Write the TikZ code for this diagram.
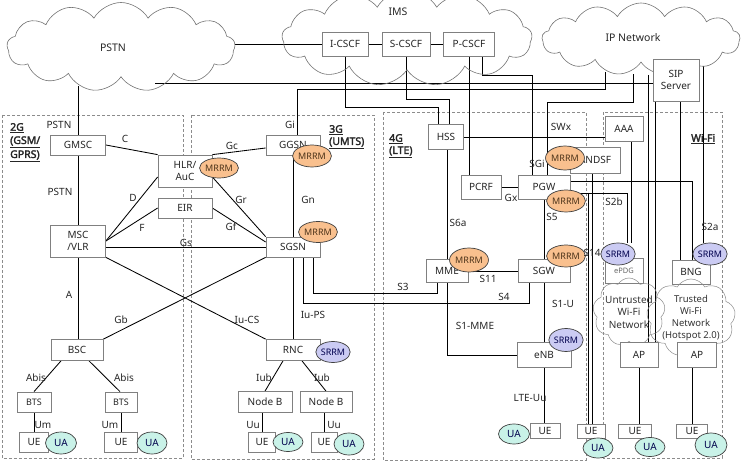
\documentclass[tikz,border=0pt]{standalone}
\usepackage{fontspec}
\setmainfont{Noto Sans}
\newfontfamily\tagfont{Noto Sans}[FakeBold=2.5]
\usetikzlibrary{shapes.geometric,shapes.symbols}
\definecolor{mrrmc}{HTML}{F9C08E}
\definecolor{srrmc}{HTML}{CBCBF3}
\definecolor{uac}{HTML}{C9F2E8}
\definecolor{boxline}{HTML}{808080}
\pgfdeclarelayer{bg}
\pgfsetlayers{bg,main}
\newcommand\myfa{\fontsize{10}{12.5}\selectfont}
\newcommand\myfb{\fontsize{9}{11}\selectfont}
\newcommand\myfc{\tagfont\fontsize{10.5}{13.5}\selectfont}
\newcommand\myfd{\fontsize{10.5}{13}\selectfont}
\newcommand\myfe{\fontsize{9.5}{12}\selectfont}
\begin{document}
\begin{tikzpicture}[x=1pt,y=-1pt,
  box/.style={draw=boxline, fill=white, line width=0.75pt, inner sep=1pt, align=center, font=\myfa, text=black!85},
  conn/.style={draw=black, line width=0.85pt},
  lbl/.style={font=\myfa, inner sep=0pt, text=black!85},
  region/.style={draw=black!45, line width=0.6pt, dash pattern=on 3pt off 2pt},
  rrm/.style={ellipse, draw=black!75, line width=0.7pt, inner sep=0pt, font=\myfb},
  mrrm/.style={rrm, fill=mrrmc, text=black!60!brown},
  srrm/.style={rrm, fill=srrmc, text=black!70!blue},
  ua/.style={rrm, fill=uac, font=\myfa, text=black!70!blue},
  bigcloud/.style={cloud, cloud puffs=13, cloud puff arc=120, cloud ignores aspect, draw=black!55, line width=0.6pt, inner sep=0pt},
  wcloud/.style={cloud, cloud puffs=9, cloud puff arc=120, cloud ignores aspect, draw=black!45, line width=0.5pt, align=center, font=\myfa, inner sep=0pt, text=black!80},
  regtag/.style={font=\myfc, inner sep=0pt, anchor=west, text=black!85}
]
\useasboundingbox (0,0) rectangle (742,462);

% clouds
\node[bigcloud, minimum width=250, minimum height=96] (ims) at (407,38) {};
\node[lbl, font=\myfd] (imsl) at (398,12) {IMS};
\node[bigcloud, minimum width=228, minimum height=89] (pstn) at (121,47) {};
\node[lbl, font=\myfd] (pstnl) at (113,48) {PSTN};
\node[bigcloud, minimum width=198, minimum height=72] (ip) at (641,39) {};
\node[lbl, font=\myfd] (ipl) at (633,38) {IP Network};

% IMS boxes
\node[box, minimum width=46, minimum height=24] (icscf) at (345,44) {I-CSCF};
\node[box, minimum width=48, minimum height=24] (scscf) at (406,44) {S-CSCF};
\node[box, minimum width=51, minimum height=24] (pcscf) at (469,44) {P-CSCF};
\node[box, minimum width=46, minimum height=42] (sip) at (676,80) {SIP\\Server};

% 2G
\node[box, minimum width=55, minimum height=20] (gmsc) at (78,145) {GMSC};
\node[box, minimum width=55, minimum height=32] (msc) at (78,241) {MSC\\/VLR};
\node[box, minimum width=54, minimum height=32] (hlr) at (185,171) {HLR/\\AuC};
\node[box, minimum width=54, minimum height=20] (eir) at (185,208) {EIR};
\node[box, minimum width=52, minimum height=21] (bsc) at (77,350) {BSC};
\node[box, minimum width=34, minimum height=20, font=\myfb] (btsl) at (34,402) {BTS};
\node[box, minimum width=32, minimum height=20, font=\myfb] (btsr) at (121,402) {BTS};
\node[box, minimum width=29, minimum height=20] (uel) at (34,442) {UE};
\node[box, minimum width=33, minimum height=20] (uer) at (121,442) {UE};

% 3G
\node[box, minimum width=54, minimum height=20] (ggsn) at (293,145) {GGSN};
\node[box, minimum width=54, minimum height=20] (sgsn) at (293,247) {SGSN};
\node[box, minimum width=54, minimum height=21] (rnc) at (293,350) {RNC};
\node[box, minimum width=54, minimum height=21] (nbl) at (265,402) {Node B};
\node[box, minimum width=52, minimum height=21] (nbr) at (326,402) {Node B};
\node[box, minimum width=27, minimum height=20] (uenl) at (262,442) {UE};
\node[box, minimum width=26, minimum height=20] (uenr) at (324,442) {UE};

% 4G
\node[box, minimum width=35, minimum height=25] (hss) at (446,137) {HSS};
\node[box, minimum width=40, minimum height=24] (pcrf) at (481,187) {PCRF};
\node[box, minimum width=52, minimum height=24] (pgw) at (544,187) {PGW};
\node[box, minimum width=42, minimum height=23] (mme) at (447,271) {MME};
\node[box, minimum width=52, minimum height=23] (sgw) at (544,271) {SGW};
\node[box, minimum width=54, minimum height=25] (enb) at (544,355) {eNB};
\node[box, minimum width=30, minimum height=15] (uelte) at (545,431) {UE};

% Wi-Fi
\node[box, minimum width=38, minimum height=25] (aaa) at (624,129) {AAA};
\node[box, minimum width=50, minimum height=26] (andsf) at (595,160) {ANDSF};
\node[box, minimum width=38, minimum height=25, font=\fontsize{7.5}{9}\selectfont, text=black!60] (epdg) at (624,271) {ePDG};
\node[box, minimum width=38, minimum height=24] (bng) at (691,272) {BNG};
\node[wcloud, minimum width=58, minimum height=68] (utw) at (629,312) {Untrusted\\Wi-Fi\\Network};
\node[wcloud, minimum width=60, minimum height=78, font=\myfe] (tw) at (691,318) {Trusted\\Wi-Fi\\Network\\(Hotspot 2.0)};
\node[box, minimum width=38, minimum height=25] (apl) at (639,355) {AP};
\node[box, minimum width=39, minimum height=25] (apr) at (697,355) {AP};
\node[box, minimum width=28, minimum height=14] (uew1) at (591,431) {UE};
\node[box, minimum width=33, minimum height=14] (uew2) at (635,431) {UE};
\node[box, minimum width=31, minimum height=14] (uew3) at (692,431) {UE};

% RRM / UA ellipses
\node[mrrm, minimum width=30, minimum height=20] (m1) at (219,168) {MRRM};
\node[mrrm, minimum width=31, minimum height=22] (m2) at (312,156) {MRRM};
\node[mrrm, minimum width=31, minimum height=21] (m3) at (318,232) {MRRM};
\node[mrrm, minimum width=32, minimum height=24] (m4) at (469,260) {MRRM};
\node[mrrm, minimum width=30, minimum height=24] (m5) at (565,158) {MRRM};
\node[mrrm, minimum width=28, minimum height=22] (m6) at (566,201) {MRRM};
\node[mrrm, minimum width=28, minimum height=22] (m7) at (566,256) {MRRM};
\node[srrm, minimum width=30, minimum height=21] (s1) at (333,352) {SRRM};
\node[srrm, minimum width=28, minimum height=23] (s2) at (566,340) {SRRM};
\node[srrm, minimum width=30, minimum height=22] (s3) at (618,254) {SRRM};
\node[srrm, minimum width=31, minimum height=22] (s4) at (710,254) {SRRM};
\node[ua, minimum width=31, minimum height=22] (u1) at (61,443) {UA};
\node[ua, minimum width=30, minimum height=22] (u2) at (152,443) {UA};
\node[ua, minimum width=30, minimum height=19] (u3) at (288,442) {UA};
\node[ua, minimum width=30, minimum height=22] (u4) at (349,444) {UA};
\node[ua, minimum width=31, minimum height=20] (u5) at (514,434) {UA};
\node[ua, minimum width=30, minimum height=20] (u6) at (598,448) {UA};
\node[ua, minimum width=30, minimum height=19] (u7) at (650,447) {UA};
\node[ua, minimum width=32, minimum height=24] (u8) at (711,445) {UA};

% region tags
\node[regtag] (t2a) at (10,128) {\underline{2G}};
\node[regtag] (t2b) at (10,142) {\underline{(GSM/}};
\node[regtag] (t2c) at (10,156) {\underline{GPRS)}};
\node[regtag] (t3a) at (329,130) {\underline{3G}};
\node[regtag] (t3b) at (329,143) {\underline{(UMTS)}};
\node[regtag] (t4a) at (389,139) {\underline{4G}};
\node[regtag] (t4b) at (389,152) {\underline{(LTE)}};
\node[regtag] (twf) at (691,139) {\underline{Wi-Fi}};

% edge labels
\node[lbl] (e1) at (59,125) {PSTN};
\node[lbl] (e2) at (60,192) {PSTN};
\node[lbl] (e3) at (125,139) {C};
\node[lbl] (e4) at (133,198) {D};
\node[lbl] (e5) at (142,228) {F};
\node[lbl] (e6) at (186,243) {Gs};
\node[lbl] (e7) at (69,295) {A};
\node[lbl] (e8) at (121,320) {Gb};
\node[lbl] (e9) at (36,378) {Abis};
\node[lbl] (e10) at (124,378) {Abis};
\node[lbl] (e11) at (43,425) {Um};
\node[lbl] (e12) at (110,425) {Um};
\node[lbl] (e13) at (290,125) {Gi};
\node[lbl] (e14) at (232,146) {Gc};
\node[lbl] (e15) at (241,200) {Gr};
\node[lbl] (e16) at (231,227) {Gf};
\node[lbl] (e17) at (308,200) {Gn};
\node[lbl] (e18) at (247,320) {Iu-CS};
\node[lbl] (e19) at (313,315) {Iu-PS};
\node[lbl] (e20) at (264,378) {Iub};
\node[lbl] (e21) at (322,378) {Iub};
\node[lbl] (e22) at (253,425) {Uu};
\node[lbl] (e23) at (334,425) {Uu};
\node[lbl] (e24) at (561,127) {SWx};
\node[lbl] (e25) at (537,164) {SGi};
\node[lbl] (e26) at (511,198) {Gx};
\node[lbl] (e27) at (552,217) {S5};
\node[lbl] (e28) at (458,223) {S6a};
\node[lbl] (e29) at (488,279) {S11};
\node[lbl] (e30) at (403,287) {S3};
\node[lbl] (e31) at (504,297) {S4};
\node[lbl] (e32) at (563,304) {S1-U};
\node[lbl] (e33) at (475,326) {S1-MME};
\node[lbl] (e34) at (530,398) {LTE-Uu};
\node[lbl] (e35) at (614,202) {S2b};
\node[lbl] (e36) at (710,227) {S2a};
\node[lbl] (e37) at (592,253) {S14};

% free end points on the clouds
\coordinate (pA) at (155,83);
\coordinate (pB) at (78,86);
\coordinate (ipA) at (633,74);
\coordinate (ipB) at (605,72);
\coordinate (ipC) at (648,75);
\coordinate (ipD) at (703,66);
\coordinate (pgA) at (588,193);

\begin{pgfonlayer}{bg}
\draw[region] (2,115) rectangle (183,458);
\draw[region] (191,115) rectangle (374,459);
\draw[region] (383,112) rectangle (586,460);
\draw[region] (603,112) rectangle (722,458);

% IMS / PSTN / IP
\draw[conn] (icscf.west) -- (icscf.west -| pstn.east);
\draw[conn] (icscf) -- (scscf);
\draw[conn] (scscf) -- (pcscf);
\draw[conn] (pA) -- (pA -| sip.west);
\draw[conn] (pB) -- (gmsc.north);
\draw[conn] (icscf.south) |- (438,107) -- (hss.north -| 438,0);
\draw[conn] (scscf.south) |- (449,99) -- (hss.north -| 449,0);
\draw[conn] (pcscf.south) -- (pcscf.south |- pcrf.north);
\draw[conn] (pcscf.south -| 482,0) |- (532,75) -- (pgw.north -| 532,0);
\draw[conn] (pgw.north -| 547,0) |- (633,102) -- (ipA);
\draw[conn] (ggsn.north -| 297,0) |- (605,89) -- (ipB);
\draw[conn] (ipC) -- (apl.north -| 648,0);
\draw[conn] (sip.south -| 655,0) -- (apl.north -| 655,0);
\draw[conn] (sip.south -| 680,0) -- (bng.north -| 680,0);
\draw[conn] (ipD) -- (s4.north -| 703,0);
\draw[conn] (hss.east) -- (hss.east -| aaa.west);
\draw[conn] (aaa.south -| 631,0) -- (s3.north -| 631,0);
\draw[conn] (pgw.east |- 0,193) -- (627,193) -- (s3.north -| 627,0);
\draw[conn] (pgw.east |- 0,181) -| (bng.north -| 692,0);
\draw[conn] (andsf.south -| 592,0) -- (uew1.north -| 592,0);
\draw[conn] (pgA) -- (uew1.north -| 588,0);

% 4G
\draw[conn] (pcrf) -- (pgw);
\draw[conn] (hss.south -| mme.north) -- (mme.north);
\draw[conn] (pgw) -- (sgw);
\draw[conn] (mme) -- (sgw);
\draw[conn] (sgw) -- (enb);
\draw[conn] (mme.south) |- (enb.west);
\draw[conn] (enb.south) -- (enb.south |- uelte.north);
\draw[conn] (sgsn.south -| 313,0) |- (437,293) -- (mme.south -| 437,0);
\draw[conn] (sgsn.south -| 303,0) |- (529,303) -- (sgw.south -| 529,0);

% 3G
\draw[conn] (sgsn) -- (rnc);
\draw[conn] (ggsn) -- (sgsn);
\draw[conn] (hlr.north east) -- (ggsn.west |- 0,148);
\draw[conn] (hlr.east |- 0,177) -- (sgsn.north west);
\draw[conn] (eir.east) -- (sgsn.west |- 0,242);
\draw[conn] (rnc.south -| 283,0) -- (nbl.north);
\draw[conn] (rnc.south -| 302,0) -- (nbr.north);
\draw[conn] (uenl.north) -- (uenl.north |- nbl.south);
\draw[conn] (uenr.north) -- (uenr.north |- nbr.south);

% 2G
\draw[conn] (gmsc) -- (msc);
\draw[conn] (gmsc.east) -- (hlr.north west);
\draw[conn] (msc.east) -- (hlr.west |- 0,177);
\draw[conn] (msc.east) -- (eir.west);
\draw[conn] (msc.east |- sgsn.west) -- (sgsn.west);
\draw[conn] (msc.south east) -- (rnc.north west);
\draw[conn] (bsc.north east) -- (sgsn.south west);
\draw[conn] (msc.south) -- (msc.south |- bsc.north);
\draw[conn] (bsc.south -| 61,0) -- (btsl.north);
\draw[conn] (bsc.south -| 89,0) -- (btsr.north -| 120,0);
\draw[conn] (btsl) -- (uel);
\draw[conn] (btsr) -- (uer);

% Wi-Fi access
\draw[conn] (apl.south) -- (apl.south |- uew2.north);
\draw[conn] (uew3.north) -- (uew3.north |- apr.south);
\end{pgfonlayer}
\end{tikzpicture}
\end{document}
